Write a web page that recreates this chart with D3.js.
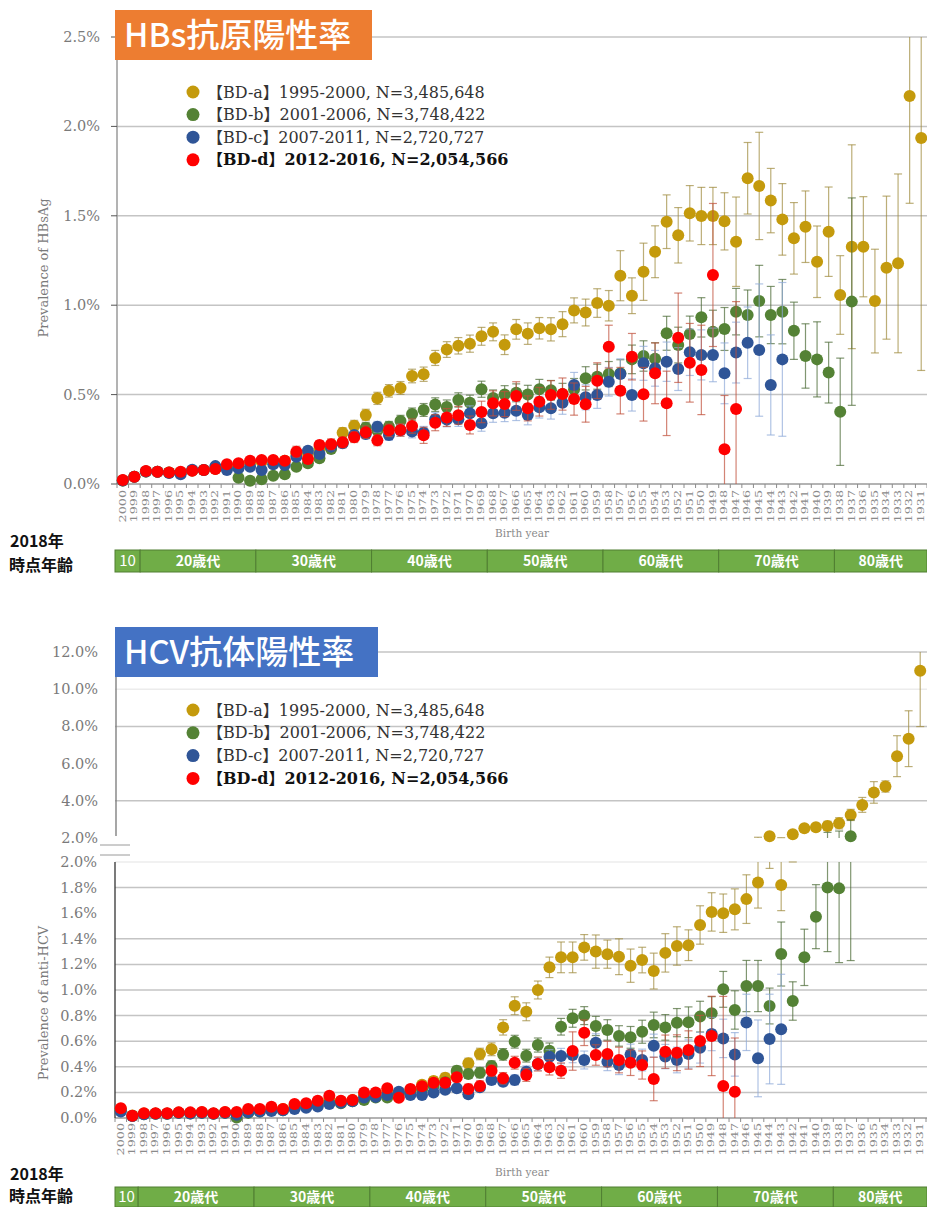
<!DOCTYPE html>
<html>
<head>
<meta charset="utf-8">
<script src="https://cdn.jsdelivr.net/npm/d3@7"></script>
<style>
  body { margin: 0; background: #fff; }
  svg { display: block; }
  .ylab { font-family: "DejaVu Serif", serif; font-size: 14.5px; fill: #7a7a7a; }
  .year { font-family: "DejaVu Serif", serif; font-size: 8.5px; fill: #8a8a8a; }
  .axtitle { font-family: "DejaVu Serif", serif; font-size: 13px; fill: #7a7a7a; }
  .legend { font-family: "DejaVu Serif", "Noto Sans CJK JP", serif; font-size: 16px; fill: #333; }
  .title { font-family: "Noto Sans CJK JP", sans-serif; font-size: 33px; fill: #fff; font-weight: 500; }
  .agehead { font-family: "Noto Sans CJK JP", sans-serif; font-size: 16px; font-weight: 700; fill: #111; }
  .ageband { font-family: "Noto Sans CJK JP", sans-serif; font-size: 14px; font-weight: 700; fill: #fff; }
</style>
</head>
<body>
<svg id="chart" width="927" height="1207"></svg>
<script>
// birth years (categories)
const years = [2000,1999,1998,1997,1996,1995,1994,1993,1992,1991,
               1990,1989,1988,1987,1986,1985,1984,1983,1982,1981,
               1980,1979,1978,1977,1976,1975,1974,1973,1972,1971,
               1970,1969,1968,1967,1966,1965,1964,1963,1962,1961,
               1960,1959,1958,1957,1956,1955,1954,1953,1952,1951,
               1950,1949,1948,1947,1946,1945,1944,1943,1942,1941,
               1940,1939,1938,1937,1936,1935,1934,1933,1932,1931];

const seriesLabels = ["【BD-a】1995-2000, N=3,485,648",
                      "【BD-b】2001-2006, N=3,748,422",
                      "【BD-c】2007-2011, N=2,720,727",
                      "【BD-d】2012-2016, N=2,054,566"];
const seriesColors = ["#C49A0C", "#548235", "#2F5597", "#FF0000"];
const errColors = ["#A08B3E", "#4A6A34", "#8EA9D8", "#C0503A"];

// ---- HBsAg prevalence (%) ----
const hbsA = [0.02,0.04,0.07,0.068,0.064,0.065,0.075,0.078,0.085,0.1,
  0.11,0.12,0.125,0.13,0.13,0.17,0.17,0.2,0.22,0.287,
  0.326,0.386,0.479,0.521,0.537,0.604,0.614,0.705,0.752,0.773,
  0.785,0.826,0.851,0.779,0.865,0.841,0.871,0.865,0.894,0.971,
  0.959,1.012,0.997,1.165,1.053,1.187,1.299,1.467,1.391,1.514,
  1.499,1.499,1.469,1.355,1.71,1.667,1.585,1.48,1.374,1.439,
  1.243,1.411,1.057,1.327,1.327,1.023,1.21,1.234,2.17,1.935];
const hbsAErr = [0.008,0.01,0.01,0.01,0.01,0.01,0.012,0.012,0.012,0.013,
  0.014,0.015,0.016,0.017,0.018,0.02,0.022,0.024,0.026,0.028,
  0.03,0.032,0.034,0.035,0.036,0.038,0.04,0.042,0.044,0.046,
  0.048,0.05,0.05,0.055,0.055,0.06,0.06,0.065,0.07,0.07,
  0.075,0.08,0.085,0.14,0.1,0.16,0.145,0.15,0.155,0.155,
  0.16,0.16,0.16,0.25,0.2,0.3,0.18,0.2,0.2,0.2,
  0.2,0.25,0.22,0.57,0.28,0.29,0.4,0.5,0.6,1.3];

const hbsB = [0.02,0.04,0.07,0.068,0.064,0.065,0.075,0.078,0.085,0.09,
  0.035,0.018,0.026,0.046,0.054,0.097,0.116,0.144,0.196,0.231,
  0.268,0.315,0.3,0.32,0.352,0.391,0.414,0.444,0.43,0.47,
  0.455,0.53,0.481,0.5,0.51,0.5,0.53,0.524,0.503,0.53,
  0.591,0.6,0.615,0.62,0.697,0.716,0.7,0.843,0.777,0.839,
  0.932,0.852,0.867,0.964,0.945,1.023,0.945,0.964,0.857,0.716,
  0.697,0.623,0.404,1.02,null,null,null,null,null,null];
const hbsBErr = [0.008,0.01,0.01,0.01,0.01,0.01,0.01,0.01,0.01,0.012,
  0.012,0.01,0.012,0.012,0.014,0.016,0.018,0.02,0.022,0.024,
  0.026,0.028,0.03,0.03,0.032,0.034,0.036,0.038,0.04,0.04,
  0.042,0.045,0.045,0.05,0.05,0.052,0.055,0.055,0.06,0.06,
  0.065,0.07,0.07,0.075,0.08,0.085,0.09,0.095,0.1,0.1,
  0.11,0.12,0.12,0.13,0.14,0.2,0.16,0.18,0.16,0.18,
  0.21,0.17,0.3,0.58];

const hbsC = [0.02,0.04,0.07,0.068,0.062,0.055,0.08,0.078,0.1,0.078,
  0.088,0.097,0.078,0.11,0.106,0.153,0.186,0.168,0.209,0.228,
  0.274,0.28,0.32,0.274,0.3,0.293,0.287,0.362,0.36,0.362,
  0.395,0.34,0.395,0.399,0.41,0.386,0.429,0.423,0.455,0.554,
  0.485,0.498,0.572,0.615,0.498,0.675,0.647,0.684,0.643,0.737,
  0.722,0.722,0.619,0.735,0.79,0.749,0.554,0.697,null,null,
  null,null,null,null,null,null,null,null,null,null];
const hbsCErr = [0.008,0.01,0.012,0.012,0.012,0.012,0.012,0.012,0.013,0.013,
  0.014,0.015,0.016,0.016,0.018,0.02,0.02,0.022,0.022,0.025,
  0.025,0.028,0.03,0.03,0.032,0.035,0.035,0.038,0.04,0.04,
  0.042,0.045,0.05,0.05,0.055,0.055,0.06,0.06,0.065,0.07,
  0.07,0.075,0.08,0.085,0.09,0.095,0.1,0.11,0.12,0.13,
  0.14,0.15,0.17,0.17,0.2,0.37,0.28,0.43];

const hbsD = [0.022,0.041,0.073,0.069,0.065,0.069,0.074,0.078,0.084,0.11,
  0.116,0.13,0.134,0.134,0.13,0.181,0.14,0.218,0.222,0.233,
  0.262,0.29,0.244,0.3,0.302,0.324,0.272,0.343,0.372,0.384,
  0.33,0.403,0.451,0.447,0.492,0.423,0.46,0.498,0.503,0.475,
  0.446,0.578,0.768,0.522,0.712,0.502,0.619,0.451,0.818,0.678,
  0.638,1.169,0.195,0.42,null,null,null,null,null,null,
  null,null,null,null,null,null,null,null,null,null];
const hbsDErr = [0.01,0.012,0.012,0.012,0.012,0.012,0.012,0.013,0.013,0.015,
  0.015,0.016,0.018,0.018,0.02,0.03,0.025,0.025,0.03,0.03,
  0.03,0.035,0.03,0.035,0.035,0.04,0.045,0.045,0.05,0.05,
  0.05,0.06,0.07,0.07,0.08,0.07,0.08,0.08,0.09,0.09,
  0.1,0.1,0.12,0.13,0.13,0.15,0.17,0.18,0.25,0.22,
  0.25,0.4,0.3,0.6];

// ---- anti-HCV prevalence (%) ----
const hcvA = [0.07,0.02,0.035,0.035,0.035,0.042,0.04,0.045,0.035,0.045,
  0.04,0.06,0.065,0.08,0.07,0.1,0.11,0.125,0.15,0.13,
  0.14,0.18,0.19,0.21,0.2,0.22,0.26,0.289,0.315,0.36,
  0.427,0.5,0.537,0.708,0.877,0.83,1.0,1.177,1.255,1.255,
  1.333,1.3,1.28,1.26,1.19,1.234,1.148,1.29,1.344,1.35,
  1.508,1.61,1.6,1.63,1.71,1.84,2.1,1.82,2.2,2.52,
  2.58,2.65,2.79,3.24,3.78,4.45,4.77,6.4,7.34,10.99];
const hcvAErr = [0.03,0.01,0.01,0.01,0.01,0.01,0.01,0.01,0.01,0.01,
  0.01,0.012,0.012,0.014,0.014,0.016,0.016,0.018,0.02,0.02,
  0.02,0.022,0.024,0.026,0.028,0.03,0.03,0.032,0.034,0.036,
  0.04,0.045,0.05,0.06,0.07,0.07,0.07,0.08,0.12,0.12,
  0.1,0.13,0.11,0.14,0.13,0.1,0.14,0.15,0.15,0.12,
  0.15,0.15,0.15,0.16,0.19,0.2,0.15,0.2,0.2,0.2,
  0.2,0.25,0.3,0.3,0.4,0.58,0.3,1.1,1.5,3.0];

const hcvB = [0.06,0.015,0.03,0.033,0.033,0.04,0.035,0.04,0.033,0.04,
  0.003,0.04,0.05,0.06,0.06,0.08,0.09,0.1,0.12,0.115,
  0.13,0.14,0.16,0.16,0.19,0.2,0.22,0.25,0.28,0.37,
  0.344,0.354,0.406,0.497,0.596,0.487,0.57,0.526,0.713,0.779,
  0.8,0.719,0.688,0.641,0.63,0.674,0.727,0.708,0.745,0.748,
  0.792,0.818,1.005,0.844,1.031,1.031,0.875,1.281,0.914,1.255,
  1.573,1.8,1.794,2.1,null,null,null,null,null,null];
const hcvBErr = [0.01,0.008,0.008,0.008,0.008,0.008,0.008,0.008,0.008,0.008,
  0.006,0.009,0.01,0.01,0.011,0.012,0.013,0.014,0.015,0.016,
  0.017,0.018,0.02,0.02,0.022,0.024,0.026,0.028,0.03,0.035,
  0.035,0.04,0.04,0.045,0.05,0.05,0.055,0.06,0.065,0.07,
  0.07,0.075,0.08,0.08,0.085,0.09,0.1,0.1,0.11,0.12,
  0.12,0.13,0.14,0.15,0.2,0.2,0.14,0.25,0.15,0.22,
  0.25,0.5,0.58,0.87];

const hcvC = [0.05,0.015,0.03,0.033,0.033,0.04,0.035,0.04,0.033,0.04,
  0.025,0.045,0.05,0.055,0.06,0.07,0.08,0.09,0.11,0.12,
  0.13,0.16,0.165,0.18,0.205,0.18,0.18,0.2,0.22,0.232,
  0.185,0.24,0.297,0.284,0.297,0.362,0.422,0.479,0.484,0.492,
  0.453,0.588,0.44,0.414,0.497,0.453,0.565,0.48,0.453,0.5,
  0.549,0.656,0.622,0.497,0.747,0.466,0.617,0.693,null,null,
  null,null,null,null,null,null,null,null,null,null];
const hcvCErr = [0.012,0.008,0.008,0.008,0.008,0.008,0.008,0.008,0.008,0.008,
  0.008,0.009,0.01,0.01,0.011,0.012,0.013,0.014,0.015,0.016,
  0.017,0.018,0.019,0.02,0.022,0.023,0.024,0.026,0.028,0.03,
  0.03,0.032,0.035,0.035,0.04,0.045,0.05,0.055,0.06,0.06,
  0.07,0.07,0.07,0.075,0.08,0.085,0.09,0.095,0.1,0.11,
  0.12,0.13,0.15,0.17,0.22,0.3,0.35,0.43];

const hcvD = [0.076,0.018,0.037,0.037,0.037,0.044,0.044,0.047,0.037,0.047,
  0.047,0.07,0.07,0.088,0.07,0.109,0.115,0.135,0.174,0.135,
  0.141,0.2,0.2,0.232,0.158,0.226,0.248,0.276,0.276,0.318,
  0.227,0.25,0.37,0.31,0.432,0.336,0.422,0.396,0.37,0.523,
  0.666,0.492,0.5,0.453,0.432,0.414,0.305,0.518,0.51,0.531,
  0.602,0.641,0.25,0.205,null,null,null,null,null,null,
  null,null,null,null,null,null,null,null,null,null];
const hcvDErr = [0.03,0.01,0.01,0.01,0.01,0.01,0.01,0.01,0.01,0.01,
  0.012,0.012,0.012,0.014,0.014,0.016,0.016,0.018,0.02,0.02,
  0.02,0.022,0.024,0.026,0.028,0.03,0.03,0.032,0.034,0.036,
  0.038,0.04,0.045,0.045,0.05,0.05,0.055,0.06,0.06,0.15,
  0.1,0.08,0.1,0.1,0.1,0.11,0.17,0.13,0.14,0.15,
  0.2,0.31,0.7,0.42];

// age band in 2018 (first and last birth year of each band)
const ageLabels = ["10", "20歳代", "30歳代", "40歳代", "50歳代", "60歳代", "70歳代", "80歳代"];
const ageFrom = [2000, 1998, 1988, 1978, 1968, 1958, 1948, 1938];
const ageTo   = [1999, 1989, 1979, 1969, 1959, 1949, 1939, 1931];

// tick labels
const hbsTicks = [0, 0.5, 1.0, 1.5, 2.0, 2.5];
const hcvLowTicks = [0, 0.2, 0.4, 0.6, 0.8, 1.0, 1.2, 1.4, 1.6, 1.8, 2.0];
const hcvHighTicks = [2, 4, 6, 8, 10, 12];
const hcvLowGrid = [0.2, 0.4, 0.6, 0.8, 1.0, 1.2, 1.4, 1.8];
const hcvHighGrid = [4, 8, 12];

const svg = d3.select("#chart");
const fmt = d3.format(".1f");

function series(vals, errs) {
  return vals.map((v, i) => ({ year: years[i], v: v, e: errs[i] })).filter(d => d.v != null);
}

// ---------- shared pieces ----------
function drawYears(x, yAxis, labelTop) {
  const g = svg.append("g");
  // category separators (tick marks)
  g.selectAll("line").data(years.concat(["end"])).join("line")
    .attr("x1", (d, i) => x.range()[0] + i * x.step())
    .attr("x2", (d, i) => x.range()[0] + i * x.step())
    .attr("y1", yAxis).attr("y2", yAxis + 4)
    .attr("stroke", "#8c8c8c");
  g.selectAll("text").data(years).join("text")
    .attr("class", "year")
    .attr("text-anchor", "end")
    .attr("dy", "0.33em")
    .attr("transform", d => `translate(${x(d) + x.bandwidth() / 2},${labelTop}) rotate(-90) scale(1.5,1)`)
    .text(d => d);
}

function drawAgeBar(x, yTop, h, head1, head2) {
  const g = svg.append("g");
  const bw = x.bandwidth();
  const left = i => i === 0 ? 115 : x(ageFrom[i]);
  const right = i => i === ageLabels.length - 1 ? 927 : x(ageTo[i]) + bw;
  g.selectAll("rect").data(ageLabels).join("rect")
    .attr("x", (d, i) => left(i))
    .attr("width", (d, i) => right(i) - left(i))
    .attr("y", yTop).attr("height", h)
    .attr("fill", "#70AD47").attr("stroke", "#507E32").attr("stroke-width", 1);
  g.selectAll("text.ageband").data(ageLabels).join("text")
    .attr("class", "ageband")
    .attr("x", (d, i) => (left(i) + right(i)) / 2)
    .attr("y", yTop + h / 2)
    .attr("dy", "0.36em")
    .attr("text-anchor", "middle")
    .style("font-weight", (d, i) => i === 0 ? 400 : 700)
    .style("font-size", (d, i) => i === 0 ? "15px" : "14px")
    .text(d => d);
  svg.append("text").attr("class", "agehead").attr("x", 10).attr("y", head1).text("2018年");
  svg.append("text").attr("class", "agehead").attr("x", 9).attr("y", head2).text("時点年齢");
}

function drawTitle(x, y, w, h, fill, label) {
  svg.append("rect").attr("x", x).attr("y", y).attr("width", w).attr("height", h).attr("fill", fill);
  svg.append("text").attr("class", "title").attr("x", x + 9).attr("y", y + h / 2)
    .attr("dy", "0.36em").text(label);
}

function drawLegend(x, y0, gap) {
  const g = svg.append("g");
  seriesLabels.forEach((lab, i) => {
    g.append("circle").attr("cx", x).attr("cy", y0 + i * gap).attr("r", 6.5).attr("fill", seriesColors[i]);
    g.append("text").attr("class", "legend")
      .attr("x", x + 14).attr("y", y0 + i * gap).attr("dy", "0.35em")
      .style("font-weight", i === 3 ? 700 : 400)
      .style("fill", i === 3 ? "#111" : "#333")
      .text(lab);
  });
}

function drawSeries(x, yOf, segs, data, k) {
  const g = svg.append("g");
  const cx = d => x(d.year) + x.bandwidth() / 2;
  data.forEach(d => {
    segs(d.v - d.e, d.v + d.e).forEach(s => {
      g.append("line").attr("x1", cx(d)).attr("x2", cx(d)).attr("y1", s[0]).attr("y2", s[1])
        .attr("stroke", errColors[k]).attr("stroke-width", 1.2).attr("stroke-opacity", 0.7);
    });
    [d.v - d.e, d.v + d.e].forEach(c => {
      const yc = yOf(c);
      if (yc == null) return;
      g.append("line").attr("x1", cx(d) - 4).attr("x2", cx(d) + 4).attr("y1", yc).attr("y2", yc)
        .attr("stroke", errColors[k]).attr("stroke-width", 1.2).attr("stroke-opacity", 0.7);
    });
  });
  g.selectAll("circle").data(data).join("circle")
    .attr("cx", cx).attr("cy", d => yOf(d.v)).attr("r", 6)
    .attr("fill", seriesColors[k]);
}

// ================= HBsAg chart =================
const xTop = d3.scaleBand().domain(years).range([117, 927]);
const yTop = d3.scaleLinear().domain([0, 2.5]).range([484, 37]);

svg.append("g").selectAll("line").data(hbsTicks.slice(1)).join("line")
  .attr("x1", 117).attr("x2", 927).attr("y1", d => yTop(d)).attr("y2", d => yTop(d))
  .attr("stroke", "#c4c4c4").attr("stroke-width", 1.5);
svg.append("line").attr("x1", 117).attr("x2", 927).attr("y1", 484).attr("y2", 484).attr("stroke", "#9a9a9a").attr("stroke-width", 1.5);
svg.append("line").attr("x1", 117).attr("x2", 117).attr("y1", 37).attr("y2", 484).attr("stroke", "#9a9a9a").attr("stroke-width", 1.5);
svg.append("g").selectAll("line").data(hbsTicks).join("line")
  .attr("x1", 111).attr("x2", 117).attr("y1", d => yTop(d)).attr("y2", d => yTop(d)).attr("stroke", "#555");
svg.append("g").selectAll("text").data(hbsTicks).join("text")
  .attr("class", "ylab").attr("x", 100).attr("y", d => yTop(d)).attr("dy", "0.35em")
  .attr("text-anchor", "end").text(d => fmt(d) + "%");

drawYears(xTop, 484, 490);
svg.append("text").attr("class", "axtitle").attr("x", 0).attr("y", 0)
  .attr("text-anchor", "middle").attr("transform", "translate(48,268) rotate(-90)")
  .text("Prevalence of HBsAg");
svg.append("text").attr("class", "axtitle").style("font-size", "10.5px").style("fill", "#8a8a8a")
  .attr("x", 522).attr("y", 537).attr("text-anchor", "middle").text("Birth year");

function segTop(lo, hi) { return [[yTop(Math.max(0, lo)), yTop(Math.min(2.5, hi))]]; }

[[hbsA, hbsAErr], [hbsB, hbsBErr], [hbsC, hbsCErr], [hbsD, hbsDErr]].forEach((s, k) => {
  drawSeries(xTop, v => (v < 0 || v > 2.5) ? null : yTop(v), segTop, series(s[0], s[1]), k);
});

drawTitle(115, 10, 257, 50, "#ED7D31", "HBs抗原陽性率");
drawLegend(193, 92, 22.6);
drawAgeBar(xTop, 550, 22, 547, 571);

// ================= anti-HCV chart =================
const xBot = d3.scaleBand().domain(years).range([115, 926]);
const yLow = d3.scaleLinear().domain([0, 2]).range([1118, 862]);
const yHigh = d3.scaleLinear().domain([2, 12]).range([838, 652]);
function yBot(v) {
  if (v < 0 || v > 12) return null;
  return v <= 2 ? yLow(v) : yHigh(v);
}
function segBot(lo, hi) {
  lo = Math.max(0, lo); hi = Math.min(12, hi);
  if (hi <= 2) return [[yLow(lo), yLow(hi)]];
  if (lo >= 2) return [[yHigh(lo), yHigh(hi)]];
  return [[yLow(lo), yLow(2)], [yHigh(2), yHigh(hi)]];
}

svg.append("g").selectAll("line").data(hcvLowGrid).join("line")
  .attr("x1", 115).attr("x2", 927).attr("y1", d => yLow(d)).attr("y2", d => yLow(d))
  .attr("stroke", "#c4c4c4").attr("stroke-width", 1.5);
svg.append("line").attr("x1", 115).attr("x2", 927).attr("y1", yLow(2)).attr("y2", yLow(2))
  .attr("stroke", "#ececec").attr("stroke-width", 1.5);
svg.append("g").selectAll("line").data(hcvHighGrid).join("line")
  .attr("x1", 115).attr("x2", 927).attr("y1", d => yHigh(d)).attr("y2", d => yHigh(d))
  .attr("stroke", "#c4c4c4").attr("stroke-width", 1.5);
svg.append("line").attr("x1", 115).attr("x2", 927).attr("y1", yHigh(10)).attr("y2", yHigh(10))
  .attr("stroke", "#ececec").attr("stroke-width", 1.5);
svg.append("line").attr("x1", 115).attr("x2", 927).attr("y1", 1118).attr("y2", 1118).attr("stroke", "#9a9a9a").attr("stroke-width", 1.5);
svg.append("line").attr("x1", 115).attr("x2", 115).attr("y1", 862).attr("y2", 1118).attr("stroke", "#333").attr("stroke-width", 1.3);
svg.append("line").attr("x1", 116).attr("x2", 116).attr("y1", 652).attr("y2", 836).attr("stroke", "#777").attr("stroke-width", 1.3);
// axis break marks
[845, 855].forEach(yb => svg.append("line").attr("x1", 100).attr("x2", 130).attr("y1", yb).attr("y2", yb)
  .attr("stroke", "#9a9a9a").attr("stroke-width", 1));

svg.append("g").selectAll("text").data(hcvLowTicks).join("text")
  .attr("class", "ylab").attr("x", 97).attr("y", d => yLow(d)).attr("dy", "0.35em")
  .attr("text-anchor", "end").text(d => fmt(d) + "%");
svg.append("g").selectAll("text").data(hcvHighTicks).join("text")
  .attr("class", "ylab").attr("x", 98).attr("y", d => yHigh(d)).attr("dy", "0.35em")
  .attr("text-anchor", "end").text(d => fmt(d) + "%");

drawYears(xBot, 1118, 1123);
svg.append("text").attr("class", "axtitle").attr("x", 0).attr("y", 0)
  .attr("text-anchor", "middle").attr("transform", "translate(48,1003) rotate(-90)")
  .text("Prevalence of anti-HCV");
svg.append("text").attr("class", "axtitle").style("font-size", "10.5px").style("fill", "#8a8a8a")
  .attr("x", 522).attr("y", 1176).attr("text-anchor", "middle").text("Birth year");

[[hcvA, hcvAErr], [hcvB, hcvBErr], [hcvC, hcvCErr], [hcvD, hcvDErr]].forEach((s, k) => {
  drawSeries(xBot, yBot, segBot, series(s[0], s[1]), k);
});

drawTitle(115, 627, 263, 50, "#4472C4", "HCV抗体陽性率");
drawLegend(193, 710, 22.8);
drawAgeBar(xBot, 1187, 20, 1180, 1202);
</script>
</body>
</html>
